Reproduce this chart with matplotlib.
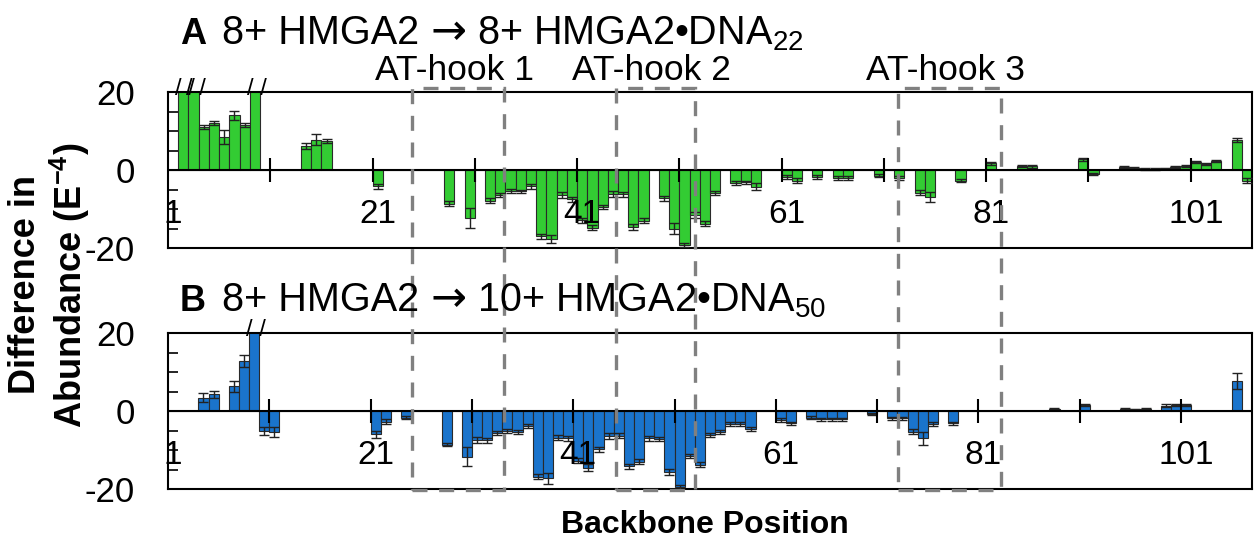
import numpy as np
import matplotlib
matplotlib.use("Agg")
import matplotlib.pyplot as plt
from matplotlib.patches import Rectangle

plt.rcParams['font.family'] = ['Liberation Sans', 'DejaVu Sans']
plt.rcParams['mathtext.fontset'] = 'custom'
plt.rcParams['mathtext.rm'] = 'Liberation Sans'
plt.rcParams['mathtext.bf'] = 'Liberation Sans:bold'
plt.rcParams['mathtext.it'] = 'Liberation Sans:italic'

# ---------------- data ----------------
positions_a = np.arange(1, 107)
values_a = [0, 25, 25, 11.0, 12.0, 8.5, 14.0, 11.5, 25, 0,
            0, 0, 0, 6.1, 7.8, 7.4, 0, 0, 0, 0,
            -4.2, 0, 0, 0, 0, 0, 0, -8.6, 0, -12.3,
            0, -7.9, -6.4, -5.3, -5.5, -4.2, -17.0, -17.6, -6.5, -7.5,
            -12.9, -14.8, -9.5, -6.2, -6.2, -14.6, -13.0, 0, -7.3, -15.0,
            -19.2, -11.5, -13.8, -6.0, 0, -3.4, -3.2, -4.3, 0, 0,
            -1.9, -2.7, 0, -1.9, 0, -2.1, -2.1, 0, 0, -1.5,
            0, -2.1, 0, -5.8, -6.9, 0, 0, -2.7, 0, 0,
            1.7, 0, 0, 1.1, 0.9, 0, 0, 0, 0, 2.8,
            -1.0, 0, 0, 0.7, 0.5, 0.3, 0.3, 0.4, 0.7, 1.0,
            2.0, 1.6, 2.3, 0, 7.8, -2.7]
errors_a = [0, 0, 0, 0.6, 0.5, 1.8, 1.2, 0.6, 0, 0,
            0, 0, 0, 0.8, 1.4, 0.5, 0, 0, 0, 0,
            0.6, 0, 0, 0, 0, 0, 0, 0.6, 0, 2.5,
            0, 0.6, 0.6, 0.5, 0.5, 0.6, 0.6, 1.0, 0.8, 0.6,
            0.6, 0.6, 0.6, 0.8, 0.6, 0.7, 0.6, 0, 0.6, 1.4,
            0.5, 0.8, 0.6, 0.5, 0, 0.5, 0.5, 0.9, 0, 0,
            0.5, 0.6, 0, 0.5, 0, 0.5, 0.5, 0, 0, 0.4,
            0, 0.5, 0, 0.6, 1.3, 0, 0, 0.5, 0, 0,
            0.4, 0, 0, 0.3, 0.3, 0, 0, 0, 0, 0.4,
            0.3, 0, 0, 0.2, 0.2, 0.2, 0.2, 0.2, 0.2, 0.3,
            0.3, 0.3, 0.3, 0, 0.5, 0.6]

positions_b = np.arange(1, 108)
values_b = [0, 0, 0, 3.4, 4.3, 0, 6.3, 12.9, 25, -5.1,
            -5.3, 0, 0, 0, 0, 0, 0, 0, 0, 0,
            -6.0, -2.7, 0, -1.7, 0, 0, 0, -8.6, 0, -11.7,
            -7.5, -7.5, -5.7, -5.1, -5.4, -3.8, -16.8, -17.3, -6.8, -7.0,
            -12.7, -14.5, -9.8, -6.4, -6.3, -14.2, -13.0, -7.0, -7.2, -15.6,
            -19.4, -11.5, -13.8, -6.2, -5.3, -3.4, -3.4, -4.6, 0, 0,
            -2.3, -3.2, 0, -1.7, -2.1, -2.1, -2.1, 0, 0, -0.8,
            0, -1.9, -1.9, -5.3, -7.0, -3.4, 0, -3.2, 0, 0,
            0, 0, 0, 0, 0, 0, 0, 0.6, 0, 0,
            1.5, 0, 0, 0, 0.5, 0.4, 0.6, 0, 1.4, 1.6,
            1.5, 0, 0, 0, 0, 7.7, 0]
errors_b = [0, 0, 0, 1.2, 0.9, 0, 1.3, 1.5, 0, 1.0,
            1.3, 0, 0, 0, 0, 0, 0, 0, 0, 0,
            1.0, 0.7, 0, 0.4, 0, 0, 0, 0.5, 0, 2.5,
            0.8, 0.7, 0.5, 0.5, 0.5, 0.5, 0.6, 1.5, 0.6, 0.6,
            0.6, 0.8, 0.6, 0.7, 0.6, 0.6, 0.6, 0.6, 0.6, 0.7,
            0.5, 0.6, 0.6, 0.5, 0.5, 0.5, 0.5, 0.6, 0, 0,
            0.5, 0.5, 0, 0.4, 0.4, 0.4, 0.4, 0, 0, 0.3,
            0, 0.4, 0.4, 0.6, 1.6, 0.5, 0, 0.5, 0, 0,
            0, 0, 0, 0, 0, 0, 0, 0.2, 0, 0,
            0.3, 0, 0, 0, 0.2, 0.2, 0.2, 0, 0.3, 0.3,
            0.3, 0, 0, 0, 0, 2.0, 0]

panel_letters = ["A", "B"]
title_left = ["8+ HMGA2", "8+ HMGA2"]
title_right = ["8+ HMGA2\u2022DNA$_{22}$", "10+ HMGA2\u2022DNA$_{50}$"]
hook_labels = ["AT-hook 1", "AT-hook 2", "AT-hook 3"]
hook_bounds = [(24.4, 33.4), (44.3, 52.0), (71.9, 82.0)]
xtick_labels = [1, 21, 41, 61, 81, 101]
ytick_values = [-20, -15, -10, -5, 0, 5, 10, 15, 20]

GREEN = "#33CC33"
BLUE = "#1A74CC"
W, H = 1260, 548

fig = plt.figure(figsize=(W / 100, H / 100), dpi=100)
renderer = fig.canvas.get_renderer()


def fx(px):
    return px / W


def fy(py):
    return 1 - py / H


def draw_panel(ax, pos, vals, errs, color, ylim=20):
    pos = np.asarray(pos)
    vals = np.asarray(vals, dtype=float)
    errs = np.asarray(errs, dtype=float)
    n = len(pos)
    ax.set_xlim(0.5, n + 0.5)
    ax.set_ylim(-ylim, ylim)
    ax.bar(pos, vals, width=1.0, color=color, edgecolor="#2a2a2a",
           linewidth=0.8, zorder=2)
    m = (vals != 0) & (np.abs(vals) < ylim)
    ax.errorbar(pos[m], vals[m], yerr=errs[m], fmt="none", ecolor="#222222",
                elinewidth=1.0, capsize=3.5, capthick=1.0, zorder=3)
    # break marks for clipped bars
    for p, v in zip(pos, vals):
        if v > ylim:
            ax.text(p + 0.2, ylim + 0.8, "/ /", ha="center", va="center",
                    fontsize=17, clip_on=False, zorder=6)
    ax.axhline(0, color="black", lw=1.5, zorder=4)
    # category ticks crossing the zero line
    bounds = np.arange(10.5, n, 10)
    ax.vlines(bounds, -3, 3, color="black", lw=1.5, zorder=4)
    for lab in xtick_labels:
        ax.text(lab, -11.5, str(lab), ha="center", va="center", fontsize=24,
                zorder=5)
    ax.set_xticks([])
    ax.set_yticks(ytick_values)
    ax.set_yticklabels([str(t) if t % 20 == 0 else "" for t in ytick_values])
    ax.tick_params(axis="y", direction="in", length=7, width=1.2, pad=24,
                   labelsize=25)
    for s in ax.spines.values():
        s.set_linewidth(1.5)
        s.set_color("black")


axA = fig.add_axes([fx(168), fy(248), fx(1084), 156 / H])
axB = fig.add_axes([fx(168), fy(489), fx(1084), 156 / H])
draw_panel(axA, positions_a, values_a, errors_a, GREEN)
draw_panel(axB, positions_b, values_b, errors_b, BLUE)

# AT-hook dashed boxes spanning both panels
ov = fig.add_axes([fx(168), fy(490), fx(1084), (490 - 88) / H])
ov.set_xlim(0.5, len(positions_a) + 0.5)
ov.set_ylim(0, 1)
ov.axis("off")
ov.patch.set_alpha(0)
for (x0, x1), lab in zip(hook_bounds, hook_labels):
    ov.add_patch(Rectangle((x0, 0), x1 - x0, 1, fill=False, edgecolor="#808080",
                           lw=2.4, linestyle=(0, (4.5, 3.5)), zorder=10,
                           clip_on=False))
    ov.text((x0 + x1) / 2 - 0.4, 1.0 + 18 / 402, lab, ha="center",
            va="center", fontsize=25.5)


def text_run(x_px, y_px, pieces):
    """Place text pieces one after another on a line (gaps in pixels)."""
    x = x_px
    for s, gap, kw in pieces:
        t = fig.text(fx(x), fy(y_px), s, ha="left", va="baseline", **kw)
        bb = t.get_window_extent(renderer)
        x = bb.x1 + gap


# titles
for letter, left, right, ypx in zip(panel_letters, title_left, title_right,
                                    [44, 311]):
    fig.text(fx(180), fy(ypx), letter, fontsize=26, fontweight="bold",
             ha="left", va="baseline")
    text_run(222, ypx, [
        (left, 11, dict(fontsize=28.5)),
        ("\u2192", 11, dict(fontsize=31, family="DejaVu Sans")),
        (right, 0, dict(fontsize=28.5)),
    ])

# axis labels
fig.text(fx(26), fy(285), "Difference in", rotation=90, fontsize=26,
         fontweight="bold", ha="center", va="center")
fig.text(fx(70), fy(285), r"Abundance (E$^{\mathbf{-4}}$)", rotation=90,
         fontsize=26, fontweight="bold", ha="center", va="center")
fig.text(fx(705), fy(525), "Backbone Position", fontsize=23,
         fontweight="bold", ha="center", va="center")

fig.savefig("out.png", dpi=100)
